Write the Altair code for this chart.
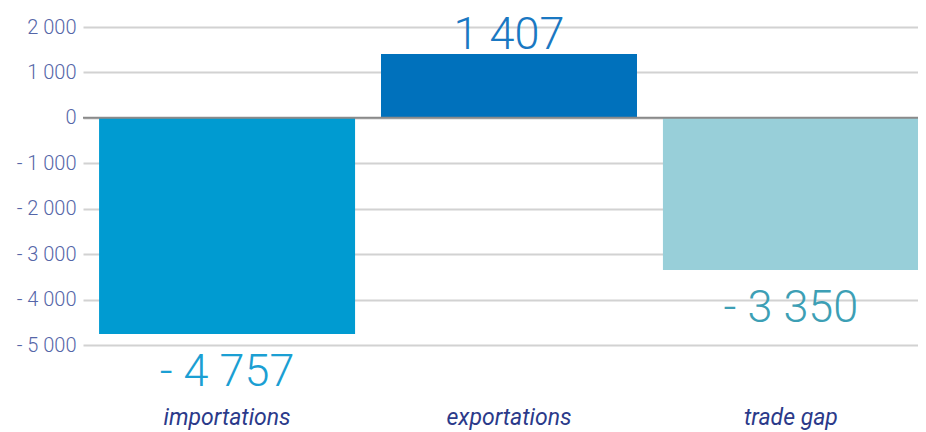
import altair as alt
import pandas as pd

categories = ["importations", "exportations", "trade gap"]
values = [-4757, 1407, -3350]
bar_colors = ["#009bd1", "#0071bc", "#98cfd9"]
label_colors = ["#1b9fd3", "#1a78c2", "#3d9fb5"]
y_ticks = [-5000, -4000, -3000, -2000, -1000, 0, 1000, 2000]


def fmt(v):
    s = f"{abs(v):,}".replace(",", " ")
    return ("- " if v < 0 else "") + s


df = pd.DataFrame({
    "category": categories,
    "value": values,
    "label": [fmt(v) for v in values],
})

x_enc = alt.X(
    "category:N",
    sort=categories,
    scale=alt.Scale(range=[0, 852], paddingInner=0.092, paddingOuter=0.057),
    axis=alt.Axis(
        title=None, orient="bottom", domain=False, ticks=False, labelAngle=0,
        labelPadding=61, labelFontSize=23, labelFontStyle="italic",
        labelColor="#2b3a8a", labelFont="Roboto", labelFontWeight=400,
    ),
)

y_scale = alt.Scale(domain=[-5000, 2000], nice=False, zero=True)

bars = alt.Chart(df).mark_bar(cornerRadius=0).encode(
    x=x_enc,
    y=alt.Y(
        "value:Q",
        scale=y_scale,
        axis=alt.Axis(
            title=None, values=y_ticks, domain=False, ticks=False,
            labelPadding=7, labelFontSize=20, labelColor="#5566a8",
            labelFont="Roboto", labelFontWeight=300,
            grid=True, gridColor="#d2d2d2", gridWidth=2,
            labelExpr="(datum.value < 0 ? '- ' : '') + replace(format(abs(datum.value), ',d'), ',', ' ')",
        ),
    ),
    color=alt.Color("category:N", scale=alt.Scale(domain=categories, range=bar_colors), legend=None),
)

zero = alt.Chart(pd.DataFrame({"z": [0]})).mark_rule(color="#8a8a8a", strokeWidth=2).encode(
    y=alt.Y("z:Q", scale=y_scale)
)

text_common = dict(font="Roboto", fontWeight=300, fontSize=45, align="center", baseline="alphabetic")

pos_text = alt.Chart(df).transform_filter("datum.value >= 0").mark_text(dy=-5, **text_common).encode(
    x=alt.X("category:N", sort=categories),
    y=alt.Y("value:Q", scale=y_scale),
    text="label:N",
    color=alt.Color("category:N", scale=alt.Scale(domain=categories, range=label_colors), legend=None),
)

neg_text = alt.Chart(df).transform_filter("datum.value < 0").mark_text(dy=52, **text_common).encode(
    x=alt.X("category:N", sort=categories),
    y=alt.Y("value:Q", scale=y_scale),
    text="label:N",
    color=alt.Color("category:N", scale=alt.Scale(domain=categories, range=label_colors), legend=None),
)

chart = alt.layer(bars, zero, pos_text, neg_text).resolve_scale(color="independent").properties(
    width=835,
    height=318,
    autosize=alt.AutoSizeParams(type="none"),
    padding={"left": 75, "top": 19, "right": 0, "bottom": 87},
).configure_view(stroke=None)

chart.save("out.html", embed_options={"renderer": "svg", "actions": False})
